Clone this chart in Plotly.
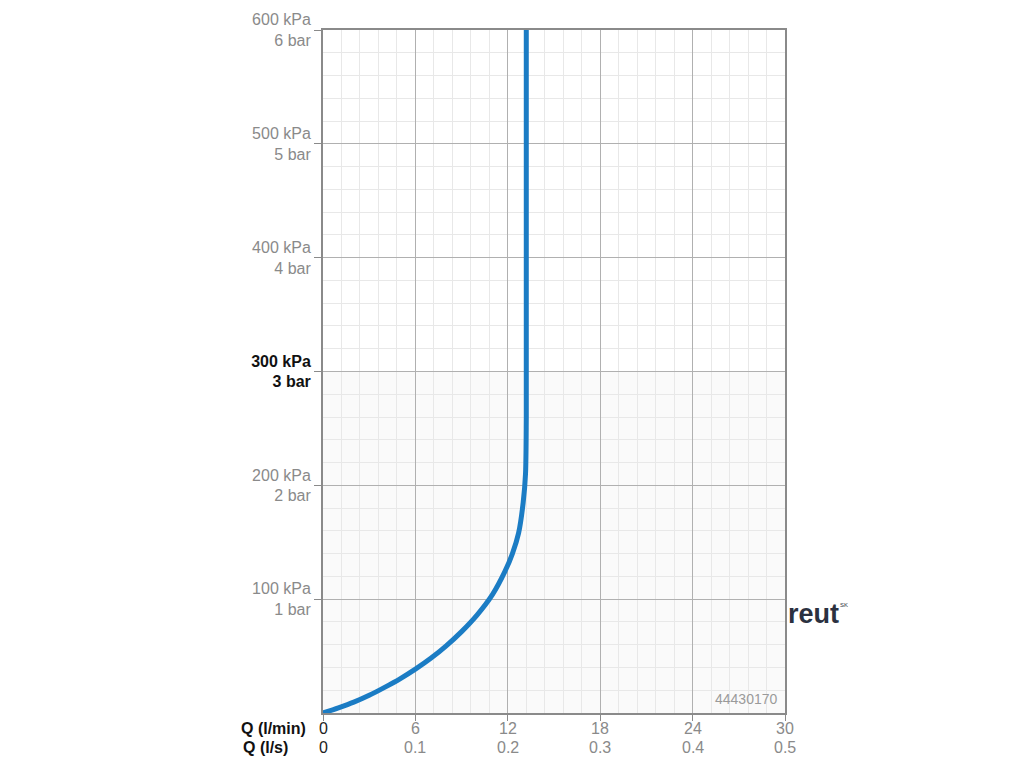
import plotly.graph_objects as go

# Data
flow_lpm = [0, 1, 2, 3, 4, 5, 6, 7, 8, 9, 10, 11, 11.8, 12.3, 12.7, 13.0, 13.15, 13.2, 13.2]
pressure_kpa = [0, 4.5, 9.5, 15.5, 22.5, 30, 38.5, 48, 59, 71.5, 86, 104, 124, 140, 158, 185, 210, 260, 600]

x_ticks = [0, 6, 12, 18, 24, 30]
x_tick_lpm = ["0", "6", "12", "18", "24", "30"]
x_tick_ls = ["0", "0.1", "0.2", "0.3", "0.4", "0.5"]
y_ticks = [100, 200, 300, 400, 500, 600]
y_tick_kpa = ["100 kPa", "200 kPa", "300 kPa", "400 kPa", "500 kPa", "600 kPa"]
y_tick_bar = ["1 bar", "2 bar", "3 bar", "4 bar", "5 bar", "6 bar"]
product_code = "44430170"

GRAY = "#8a8a8a"
DARK = "#222222"

yt = []
for v, a, b in zip(y_ticks, y_tick_kpa, y_tick_bar):
    if v == 300:
        yt.append(f"<span style='color:#111'><b>{a}<br>{b}</b></span>")
    else:
        yt.append(f"<span style='color:{GRAY}'>{a}<br>{b}</span>")

fig = go.Figure()
fig.add_trace(go.Scatter(
    x=flow_lpm, y=pressure_kpa, mode="lines",
    line=dict(color="#1b7cc4", width=5, shape="spline", smoothing=0.8),
    showlegend=False, hoverinfo="skip"))

fig.add_shape(type="rect", xref="x", yref="y", x0=0, x1=30, y0=0, y1=300,
              fillcolor="#fafafa", line=dict(width=0), layer="below")

PW, PH = 462, 683
fig.update_layout(
    width=1024, height=768,
    margin=dict(l=315, r=1024 - 315 - PW, t=22, b=768 - 22 - PH),
    paper_bgcolor="white", plot_bgcolor="white",
    font=dict(family="Liberation Sans, Arial, sans-serif", size=16, color=GRAY),
    xaxis=dict(range=[0, 30], tickvals=x_ticks, showticklabels=False, automargin=False,
               showgrid=True, gridcolor="#b0b0b0", gridwidth=1,
               minor=dict(dtick=1.2, showgrid=True, gridcolor="#e8e8e8", gridwidth=1),
               showline=True, linecolor="#8a8a8a", linewidth=2, mirror=True,
               ticks="outside", ticklen=6, tickcolor="#8a8a8a",
               zeroline=False, fixedrange=True),
    yaxis=dict(range=[0, 600], tickvals=y_ticks, ticktext=yt, automargin=False,
               showgrid=True, gridcolor="#b0b0b0", gridwidth=1,
               minor=dict(dtick=20, showgrid=True, gridcolor="#e8e8e8", gridwidth=1),
               showline=True, linecolor="#8a8a8a", linewidth=2, mirror=True,
               ticks="outside", ticklen=7, tickcolor="#8a8a8a",
               zeroline=False, fixedrange=True),
)

# two rows of x tick labels (l/min and l/s), placed at the axis tick values
for i, (v, a, b) in enumerate(zip(x_ticks, x_tick_lpm, x_tick_ls)):
    col = DARK if i == 0 else GRAY
    fig.add_annotation(text=a, xref="x", yref="paper", x=v, y=-15/PH,
                       xanchor="center", yanchor="middle", showarrow=False,
                       font=dict(size=16, color=col))
    fig.add_annotation(text=b, xref="x", yref="paper", x=v, y=-34/PH,
                       xanchor="center", yanchor="middle", showarrow=False,
                       font=dict(size=16, color=col))

fig.add_annotation(text="<b>Q (l/min)</b>", xref="paper", yref="paper",
                   x=-84/PW, y=-15/PH, xanchor="left", yanchor="middle",
                   showarrow=False, font=dict(size=16, color="#111"))
fig.add_annotation(text="<b>Q (l/s)</b>", xref="paper", yref="paper",
                   x=-82/PW, y=-34/PH, xanchor="left", yanchor="middle",
                   showarrow=False, font=dict(size=16, color="#111"))
fig.add_annotation(text=product_code, xref="paper", yref="paper",
                   x=1 - 5/PW, y=14/PH, xanchor="right", yanchor="middle",
                   showarrow=False, font=dict(size=14, color="#9a9a9a"))
fig.add_annotation(text="<b>reut</b>", xref="paper", yref="paper",
                   x=1 + 1/PW, y=99/PH, xanchor="left", yanchor="middle",
                   showarrow=False, font=dict(size=27, color="#2b3140"))
fig.add_annotation(text="SK", xref="paper", yref="paper",
                   x=1 + 53/PW, y=108/PH, xanchor="left", yanchor="middle",
                   showarrow=False, font=dict(size=6, color="#2b3140"))

fig.write_html("out.html")
